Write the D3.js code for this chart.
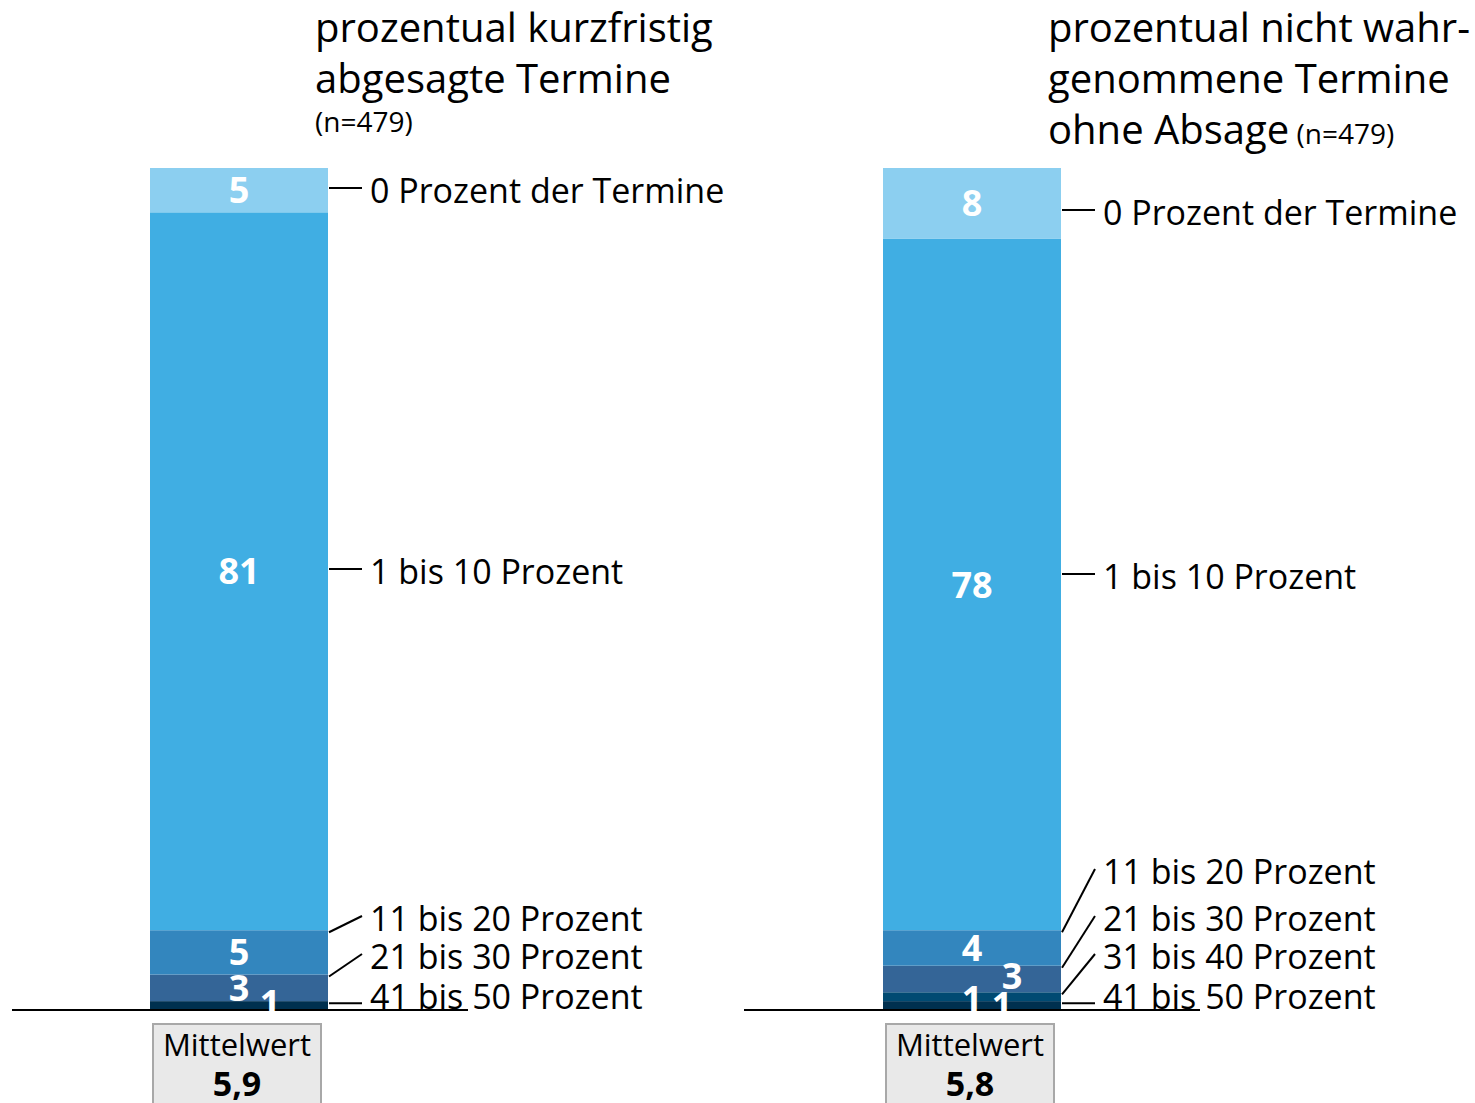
<!DOCTYPE html>
<html><head><meta charset="utf-8">
<script src="https://cdn.jsdelivr.net/npm/d3@7"></script>
<style>
html,body{margin:0;padding:0;background:#fff;}
svg{display:block;font-family:"Open Sans",sans-serif;}
</style></head>
<body><svg id="c" width="1475" height="1103"></svg>
<script>
// ---- data ----
const categories = ["0 Prozent der Termine","1 bis 10 Prozent","11 bis 20 Prozent","21 bis 30 Prozent","31 bis 40 Prozent","41 bis 50 Prozent"];
const panels = ["kurzfristig","nichtWahrgenommen"];
const valuesKurzfristig = [5,81,5,3,0,1];
const valuesNichtWahrgenommen = [8,78,4,3,1,1];
const means = ["5,9","5,8"];
const titleKurzfristig = ["prozentual kurzfristig","abgesagte Termine"];
const titleNichtWahrgenommen = ["prozentual nicht wahr-","genommene Termine","ohne Absage"];
const sampleLabel = "(n=479)";
const meanLabel = "Mittelwert";
const colors = ["#8ccff0","#40aee3","#3386be","#346597","#004a72","#00304f"];

// ---- layout ----
const svg = d3.select("#c");
const x = d3.scaleBand().domain(panels).range([150,1061]).paddingInner(1-178/733).paddingOuter(0).align(0);
const y = d3.scaleLinear().domain([0,95]).range([1010,168]);
const layout = {
  kurzfristig: {labelY:[191,572,919,957,null,997], valDx:[0,0,0,0,0,31], valDy:[0,0,0,0,0,-3], lineX0:12, lineX1:468},
  nichtWahrgenommen: {labelY:[213,577,872,919,957,997], valDx:[0,0,0,40,0,30], valDy:[0,0,0,-3,2,-1], lineX0:744, lineX1:1200}
};
const dataByPanel = {kurzfristig: valuesKurzfristig, nichtWahrgenommen: valuesNichtWahrgenommen};

panels.forEach((p,pi)=>{
  const vals = dataByPanel[p];
  const L = layout[p];
  const bx = x(p), bw = x.bandwidth();
  let acc = 0;
  const segs = [];
  for (let i = vals.length-1; i >= 0; i--) {
    segs.push({i, v: vals[i], y0: acc, y1: acc + vals[i]});
    acc += vals[i];
  }
  const g = svg.append("g");
  g.selectAll("rect.seg").data(segs.filter(d=>d.v>0)).join("rect")
    .attr("x", bx).attr("width", bw)
    .attr("y", d=>y(d.y1)).attr("height", d=>y(d.y0)-y(d.y1))
    .attr("fill", d=>colors[d.i]);

  g.append("line").attr("x1",L.lineX0).attr("x2",L.lineX1)
    .attr("y1",y(0)).attr("y2",y(0)).attr("stroke","#000").attr("stroke-width",2);

  const labX = bx + bw + 42;
  segs.filter(d=>d.v>0).forEach(d=>{
    const ly = L.labelY[d.i];
    if (ly == null) return;
    const top = y(d.y1), bot = y(d.y0);
    const ay = Math.max(top+2, Math.min(bot-4, ly-3));
    const ey = Math.abs(ay-(ly-3)) < 10 ? ay : ly-3;
    g.append("line").attr("x1", bx+bw+1).attr("y1", ay)
      .attr("x2", labX-8).attr("y2", ey)
      .attr("stroke","#000").attr("stroke-width",2);
    g.append("text").attr("x", labX).attr("y", ly).attr("dy","0.35em")
      .attr("font-size",34).attr("fill","#000").text(categories[d.i]);
  });

  g.selectAll("text.val").data(segs.filter(d=>d.v>0)).join("text")
    .attr("class","val")
    .attr("x", d=>bx + bw/2 + L.valDx[d.i])
    .attr("y", d=>(y(d.y0)+y(d.y1))/2 + L.valDy[d.i])
    .attr("dy","0.36em")
    .attr("text-anchor","middle").attr("font-weight","bold")
    .attr("font-size",36).attr("fill","#fff").text(d=>d.v);

  const mx = bx + 3, mw = 168;
  g.append("rect").attr("x",mx).attr("y",1024).attr("width",mw).attr("height",100)
    .attr("fill","#e9e9e9").attr("stroke","#a8a8a8").attr("stroke-width",2);
  g.append("text").attr("x",mx+mw/2).attr("y",1056).attr("text-anchor","middle")
    .attr("font-size",31).attr("fill","#000").text(meanLabel);
  g.append("text").attr("x",mx+mw/2).attr("y",1096).attr("text-anchor","middle")
    .attr("font-size",34).attr("font-weight","bold").attr("fill","#000").text(means[pi]);
});

const t1 = svg.append("text").attr("font-size",40).attr("fill","#000");
titleKurzfristig.forEach((s,i)=>t1.append("tspan").attr("x",315).attr("y",42+i*51).text(s));
svg.append("text").attr("x",315).attr("y",132).attr("font-size",28).attr("fill","#000").text(sampleLabel);

const t2 = svg.append("text").attr("font-size",40).attr("fill","#000");
titleNichtWahrgenommen.forEach((s,i)=>t2.append("tspan").attr("x",1048).attr("y",42+i*51).text(s));
t2.append("tspan").attr("font-size",28).text(" " + sampleLabel);
</script>
</body></html>
